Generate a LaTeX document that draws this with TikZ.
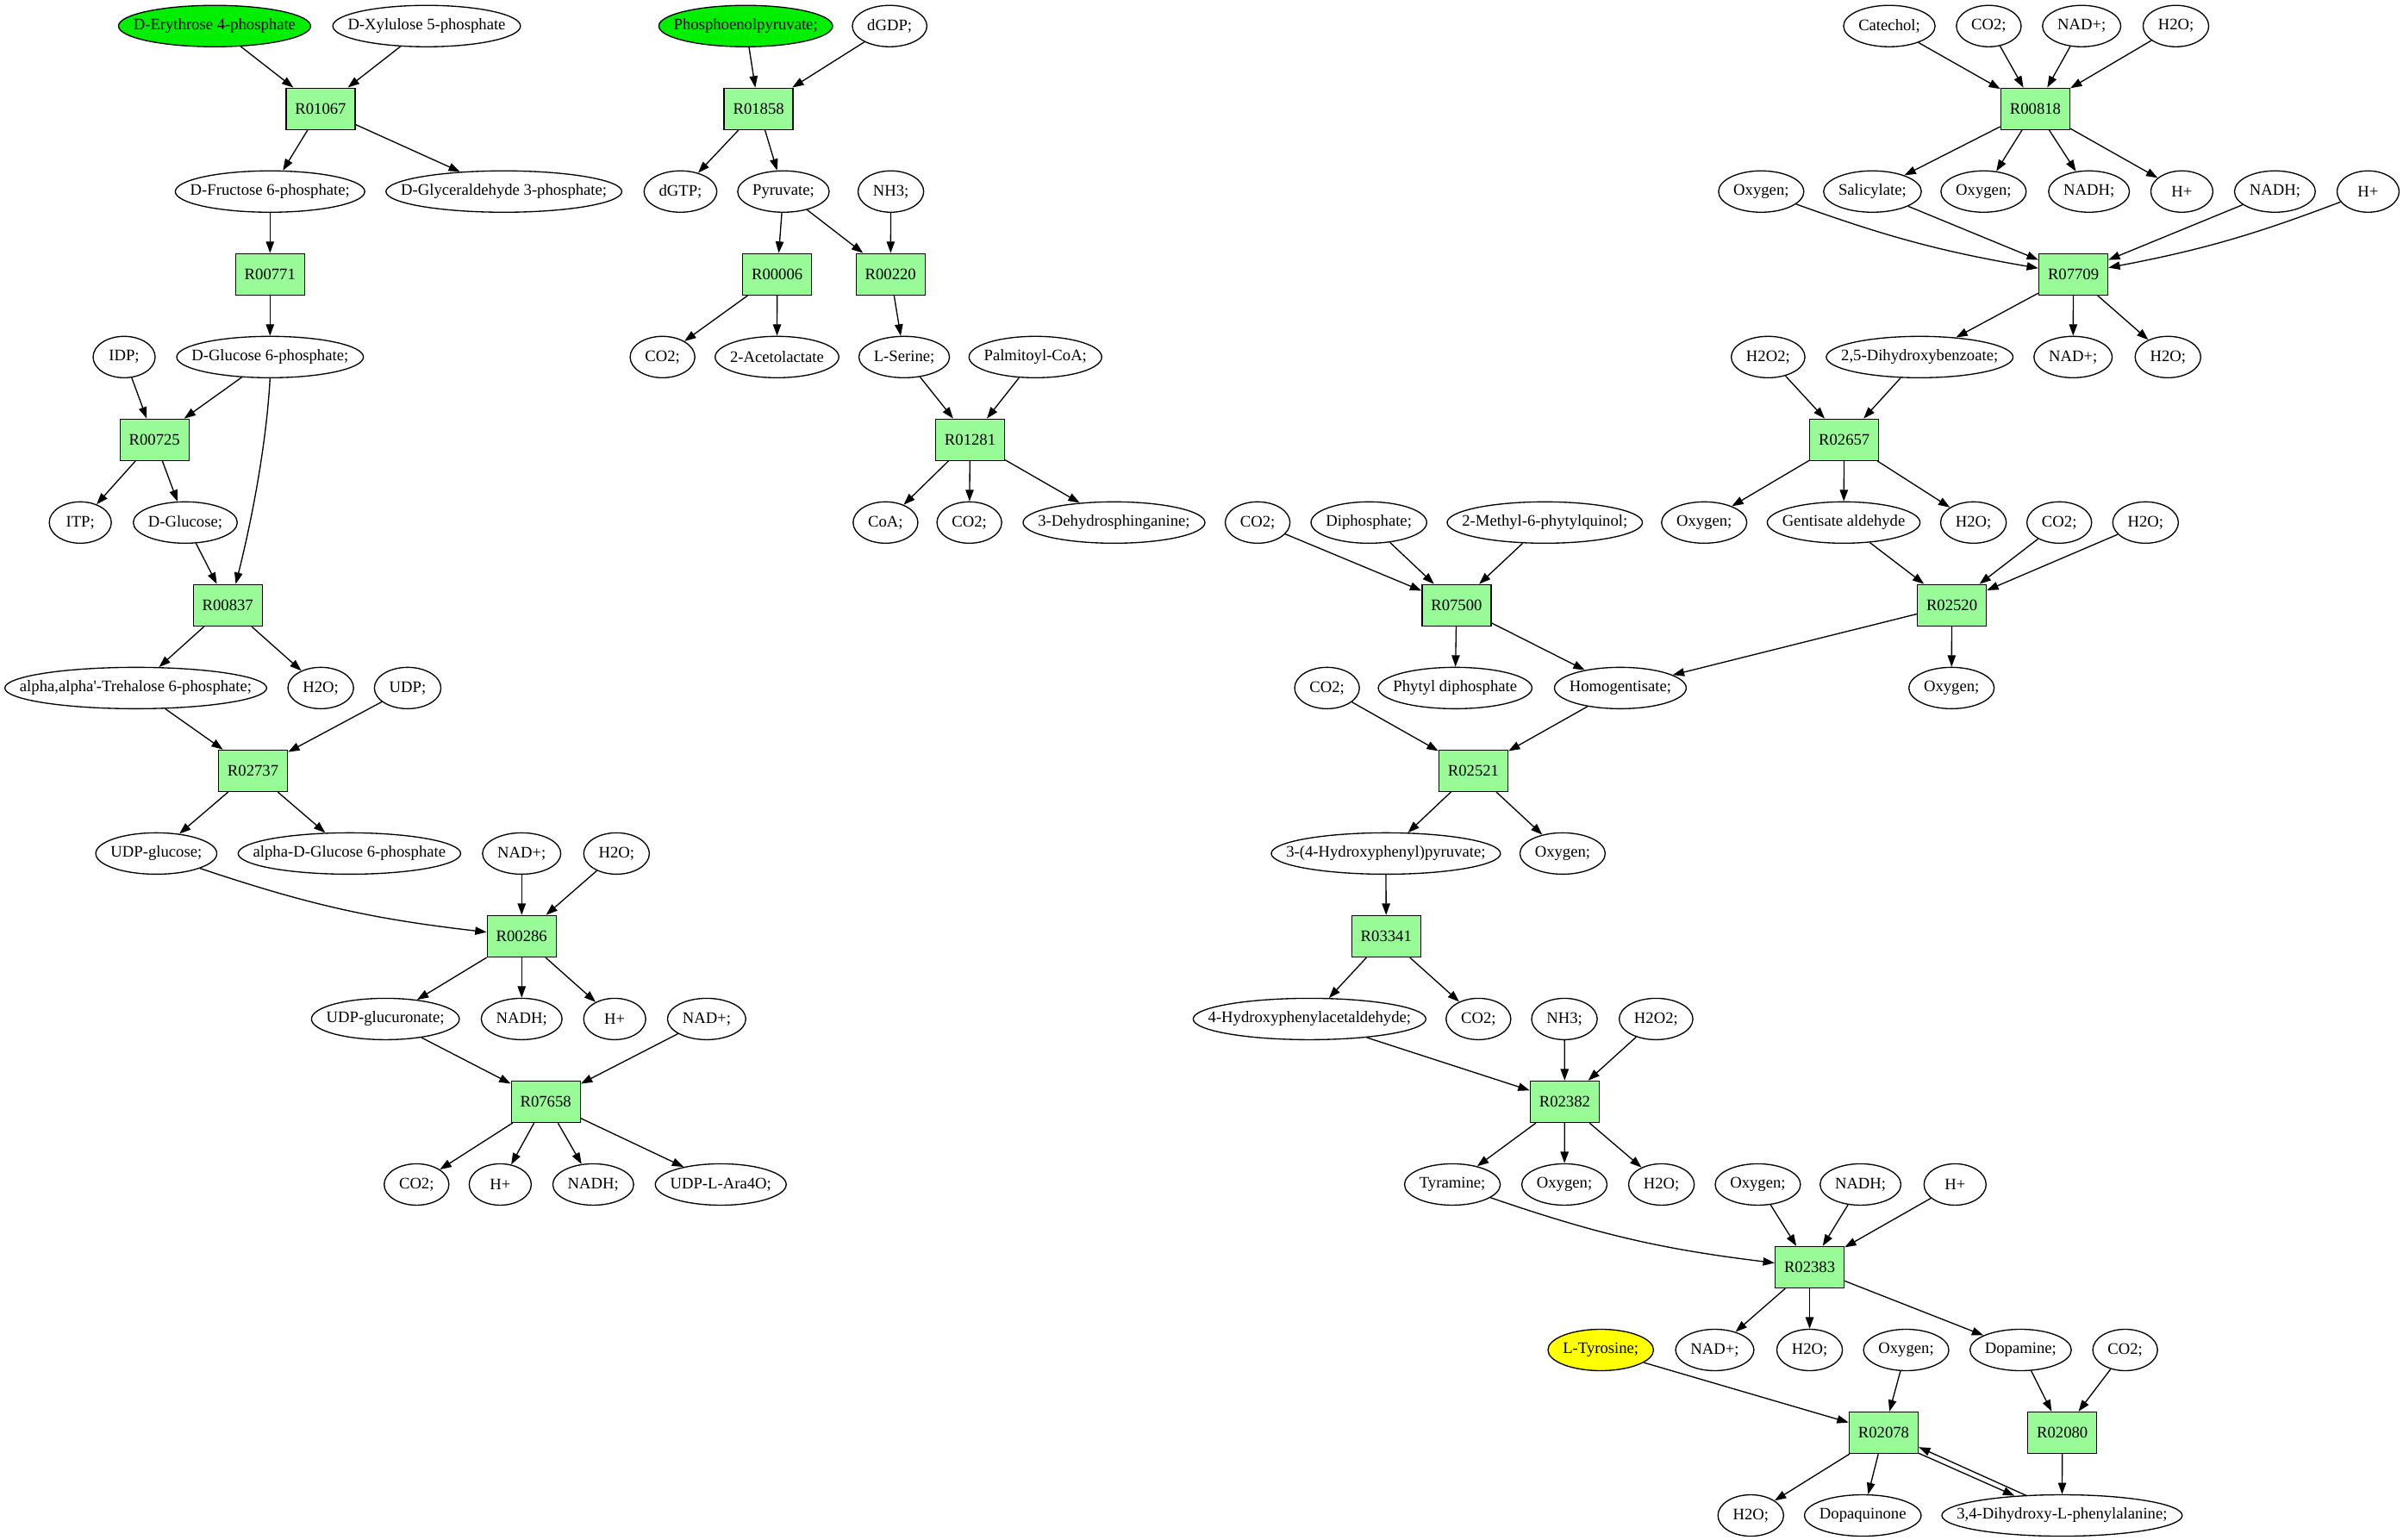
\documentclass[tikz,border=0pt]{standalone}
\usepackage{fontspec}
\setmainfont{Liberation Serif}[Ligatures=TeXOff]
\usetikzlibrary{arrows.meta,shapes.geometric}
\definecolor{boxgreen}{HTML}{98FB98}
\definecolor{srcgreen}{HTML}{00EE00}
\definecolor{srcyellow}{HTML}{FFFF00}
\newlength\elw
\newcommand\nfont{\fontsize{10.5}{12}\selectfont}
% ellipse node whose width follows its text (text width + 19.5pt), as Graphviz does
\newcommand\enode[4][]{%
  \node[ell,#1] (#2) at (#3) {\settowidth{\elw}{#4}\addtolength{\elw}{19.5pt}\setlength{\elw}{0.70711\elw}\makebox[\elw]{#4}};%
}
\begin{document}
\begin{tikzpicture}[x=1pt,y=-1pt,
  ell/.style={ellipse,draw,line width=0.75pt,fill=white,inner sep=0pt,minimum width=40.5pt,minimum height=27pt,font=\nfont},
  rbox/.style={rectangle,draw,line width=0.75pt,fill=boxgreen,inner sep=0pt,minimum width=45pt,minimum height=27pt,font=\nfont},
  srcg/.style={fill=srcgreen},
  srcy/.style={fill=srcyellow},
  arr/.style={draw,line width=0.75pt,-{Triangle[length=7.5pt,width=5.3pt]}}]
\fill[white] (0,0) rectangle (1568,1005);
\useasboundingbox (0,0) rectangle (1568,1005);

% ---- level 0
\enode[srcg]{ery}{140,17}{D-Erythrose 4-phosphate}
\enode{xyl}{278.4,17}{D-Xylulose 5-phosphate}
\enode[srcg]{pep}{486.6,17}{Phosphoenolpyruvate;}
\enode{dgdp}{580.5,17}{dGDP;}
\enode{cat}{1232.8,17}{Catechol;}
\enode{co2a}{1297.7,17}{CO2;}
\enode{nadpa}{1358.3,17}{NAD+;}
\enode{h2oa}{1419.8,17}{H2O;}
% ---- level 1
\node[rbox] (r01067) at (209.2,71) {R01067};
\node[rbox] (r01858) at (495,71) {R01858};
\node[rbox] (r00818) at (1328.1,71) {R00818};
% ---- level 2
\enode{fru}{176.2,125}{D-Fructose 6-phosphate;}
\enode{gap}{328.8,125}{D-Glyceraldehyde 3-phosphate;}
\enode{dgtp}{444,125}{dGTP;}
\enode{pyr}{511.2,125}{Pyruvate;}
\enode{nh3a}{581.3,125}{NH3;}
\enode{oxa}{1149.2,125}{Oxygen;}
\enode{sal}{1221.8,125}{Salicylate;}
\enode{oxb}{1294.3,125}{Oxygen;}
\enode{nadha}{1363.1,125}{NADH;}
\enode{hpa}{1423.7,125}{H+}
\enode{nadhb}{1484.4,125}{NADH;}
\enode{hpb}{1545.2,125}{H+}
% ---- level 3
\node[rbox] (r00771) at (176.2,179) {R00771};
\node[rbox] (r00006) at (507.1,179) {R00006};
\node[rbox] (r00220) at (581.1,179) {R00220};
\node[rbox] (r07709) at (1352.9,179) {R07709};
% ---- level 4
\enode{idp}{81,233}{IDP;}
\enode{g6p}{176.2,233}{D-Glucose 6-phosphate;}
\enode{co2b}{432.3,233}{CO2;}
\enode{acl}{507,233}{2-Acetolactate}
\enode{ser}{590,233}{L-Serine;}
\enode{pal}{675.6,233}{Palmitoyl-CoA;}
\enode{h2o2a}{1153.7,233}{H2O2;}
\enode{dhb}{1252.6,233}{2,5-Dihydroxybenzoate;}
\enode{nadpb}{1352.7,233}{NAD+;}
\enode{h2ob}{1414.6,233}{H2O;}
% ---- level 5
\node[rbox] (r00725) at (100.8,287) {R00725};
\node[rbox] (r01281) at (633,287) {R01281};
\node[rbox] (r02657) at (1203.4,287) {R02657};
% ---- level 6
\enode{itp}{52.4,341}{ITP;}
\enode{glc}{120.9,341}{D-Glucose;}
\enode{coa}{577.8,341}{CoA;}
\enode{co2c}{632.5,341}{CO2;}
\enode{dhs}{726.9,341}{3-Dehydrosphinganine;}
\enode{co2d}{820.6,341}{CO2;}
\enode{dip}{893.2,341}{Diphosphate;}
\enode{mpq}{1008,341}{2-Methyl-6-phytylquinol;}
\enode{oxc}{1112,341}{Oxygen;}
\enode{gal}{1203,341}{Gentisate aldehyde}
\enode{h2oc}{1287.7,341}{H2O;}
\enode{co2e}{1343.7,341}{CO2;}
\enode{h2od}{1400,341}{H2O;}
% ---- level 7
\node[rbox] (r00837) at (148.6,395) {R00837};
\node[rbox] (r07500) at (950.4,395) {R07500};
\node[rbox] (r02520) at (1273.6,395) {R02520};
% ---- level 8
\enode{tre}{88.6,449}{alpha,alpha'-Trehalose 6-phosphate;}
\enode{h2oe}{209.3,449}{H2O;}
\enode{udp}{266,449}{UDP;}
\enode{co2f}{865.9,449}{CO2;}
\enode{phy}{949.5,449}{Phytyl diphosphate}
\enode{hgn}{1057.3,449}{Homogentisate;}
\enode{oxd}{1273.4,449}{Oxygen;}
% ---- level 9
\node[rbox] (r02737) at (165.1,503) {R02737};
\node[rbox] (r02521) at (961.4,503) {R02521};
% ---- level 10
\enode{udpg}{102,557}{UDP-glucose;}
\enode{ag6p}{228,557}{alpha-D-Glucose 6-phosphate}
\enode{nadpc}{340.4,557}{NAD+;}
\enode{h2of}{402.3,557}{H2O;}
\enode{hpp}{904.3,557}{3-(4-Hydroxyphenyl)pyruvate;}
\enode{oxe}{1019.6,557}{Oxygen;}
% ---- level 11
\node[rbox] (r00286) at (340.4,611) {R00286};
\node[rbox] (r03341) at (904.5,611) {R03341};
% ---- level 12
\enode{udpga}{251.5,665}{UDP-glucuronate;}
\enode{nadhc}{340.4,665}{NADH;}
\enode{hpc}{401.1,665}{H+}
\enode{nadpd}{461.1,665}{NAD+;}
\enode{hpaa}{854.5,665}{4-Hydroxyphenylacetaldehyde;}
\enode{co2g}{964.7,665}{CO2;}
\enode{nh3b}{1020.8,665}{NH3;}
\enode{h2o2b}{1080.6,665}{H2O2;}
% ---- level 13
\node[rbox] (r07658) at (356.1,719) {R07658};
\node[rbox] (r02382) at (1021,719) {R02382};
% ---- level 14
\enode{co2h}{271.8,773}{CO2;}
\enode{hpd}{326.4,773}{H+}
\enode{nadhd}{387.1,773}{NADH;}
\enode{ara}{470.3,773}{UDP-L-Ara4O;}
\enode{tyr}{947.7,773}{Tyramine;}
\enode{oxf}{1020.8,773}{Oxygen;}
\enode{h2og}{1084.1,773}{H2O;}
\enode{oxg}{1147,773}{Oxygen;}
\enode{nadhe}{1214,773}{NADH;}
\enode{hpe}{1275.7,773}{H+}
% ---- level 15
\node[rbox] (r02383) at (1180.8,827) {R02383};
% ---- level 16
\enode[srcy]{ltyr}{1044.5,881}{L-Tyrosine;}
\enode{nadpe}{1118.9,881}{NAD+;}
\enode{h2oh}{1180.8,881}{H2O;}
\enode{oxh}{1243.8,881}{Oxygen;}
\enode{dop}{1318.5,881}{Dopamine;}
\enode{co2i}{1386.7,881}{CO2;}
% ---- level 17
\node[rbox] (r02078) at (1229.1,935) {R02078};
\node[rbox] (r02080) at (1345.7,935) {R02080};
% ---- level 18
\enode{h2oi}{1142.4,989}{H2O;}
\enode{dpq}{1215.5,989}{Dopaquinone}
\enode{dopa}{1345.5,989}{3,4-Dihydroxy-L-phenylalanine;}

% ---- straight connectors
\foreach \a/\b in {ery/r01067, xyl/r01067, r01067/fru, r01067/gap,
  fru/r00771, r00771/g6p,
  idp/r00725, g6p/r00725, r00725/itp, r00725/glc,
  glc/r00837, r00837/tre, r00837/h2oe,
  tre/r02737, udp/r02737, r02737/udpg, r02737/ag6p,
  nadpc/r00286, h2of/r00286, r00286/udpga, r00286/nadhc, r00286/hpc,
  udpga/r07658, nadpd/r07658, r07658/co2h, r07658/hpd, r07658/nadhd, r07658/ara,
  pep/r01858, dgdp/r01858, r01858/dgtp, r01858/pyr,
  pyr/r00006, pyr/r00220, nh3a/r00220,
  r00006/co2b, r00006/acl, r00220/ser,
  ser/r01281, pal/r01281, r01281/coa, r01281/co2c, r01281/dhs,
  cat/r00818, co2a/r00818, nadpa/r00818, h2oa/r00818,
  r00818/sal, r00818/oxb, r00818/nadha, r00818/hpa,
  sal/r07709, nadhb/r07709,
  r07709/dhb, r07709/nadpb, r07709/h2ob,
  h2o2a/r02657, dhb/r02657, r02657/oxc, r02657/gal, r02657/h2oc,
  gal/r02520, co2e/r02520, h2od/r02520, r02520/hgn, r02520/oxd,
  co2d/r07500, dip/r07500, mpq/r07500, r07500/phy, r07500/hgn,
  co2f/r02521, hgn/r02521, r02521/hpp, r02521/oxe,
  hpp/r03341, r03341/hpaa, r03341/co2g,
  hpaa/r02382, nh3b/r02382, h2o2b/r02382, r02382/tyr, r02382/oxf, r02382/h2og,
  oxg/r02383, nadhe/r02383, hpe/r02383,
  r02383/nadpe, r02383/h2oh, r02383/dop,
  ltyr/r02078, oxh/r02078, r02078/h2oi, r02078/dpq,
  dop/r02080, co2i/r02080, r02080/dopa}
  \draw[arr] (\a) -- (\b);

% ---- curved connectors
\draw[arr] (g6p.south) .. controls (173.8,291) and (163.8,341.5) .. ([xshift=5.2pt]r00837.north);
\draw[arr] (udpg) to[bend right=6] (r00286);
\draw[arr] (tyr) to[bend right=6] (r02383);
\draw[arr] (oxa) to[bend right=5] (r07709);
\draw[arr] (hpb) to[bend left=5] (r07709);
% ---- the pair between R02078 and 3,4-Dihydroxy-L-phenylalanine
\draw[arr] ([yshift=0.5pt]r02078.south east) -- ([xshift=-31pt,yshift=-1pt]dopa.north);
\draw[arr] ([xshift=-23pt,yshift=-1pt]dopa.north) -- ([yshift=4.5pt]r02078.south east);
\end{tikzpicture}
\end{document}
